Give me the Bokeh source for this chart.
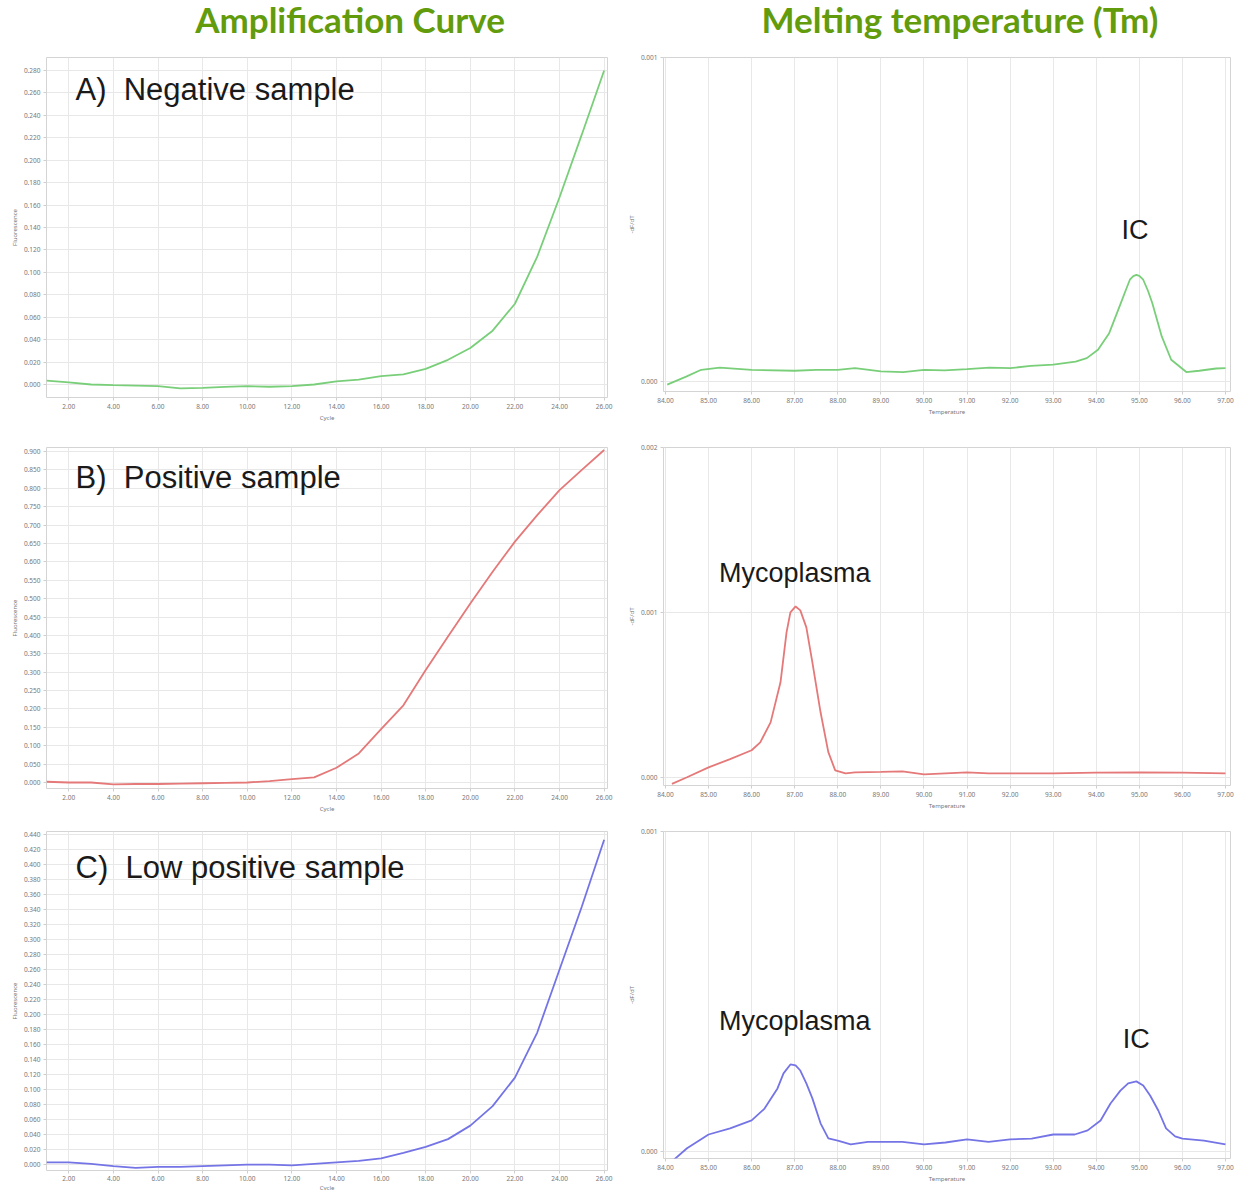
from bokeh.plotting import figure
from bokeh.layouts import column, row
from bokeh.models import Div, Label, FixedTicker, PrintfTickFormatter, Range1d
from bokeh.embed import file_html
from bokeh.resources import INLINE

# ---------------- data ----------------
cycles = list(range(1, 27))
neg_fluor = [0.0035, 0.0018, 0.0, -0.0006, -0.001, -0.0015, -0.0035, -0.003, -0.0022, -0.0015,
             -0.002, -0.0015, 0.0, 0.0027, 0.0044, 0.0074, 0.009, 0.0139, 0.022, 0.0325,
             0.048, 0.072, 0.114, 0.167, 0.223, 0.28]
pos_fluor = [0.002, 0.0, 0.0, -0.005, -0.004, -0.004, -0.003, -0.002, -0.001, 0.0,
             0.004, 0.009, 0.014, 0.04, 0.079, 0.145, 0.21, 0.306, 0.397, 0.487,
             0.573, 0.655, 0.727, 0.795, 0.85, 0.904]
low_fluor = [0.003, 0.003, 0.001, -0.002, -0.0044, -0.003, -0.003, -0.002, -0.001, 0.0,
             0.0, -0.001, 0.001, 0.003, 0.005, 0.0084, 0.0156, 0.0236, 0.034, 0.052,
             0.078, 0.116, 0.176, 0.26, 0.344, 0.433]

neg_temp = [84.04, 84.48, 84.83, 85.26, 86.0, 87.0, 87.5, 88.0, 88.4, 89.0, 89.52, 90.0, 90.48,
            91.0, 91.52, 92.0, 92.48, 93.0, 93.52, 93.78, 94.04, 94.3, 94.57, 94.68, 94.78,
            94.86, 94.93, 95.0, 95.09, 95.2, 95.3, 95.52, 95.74, 96.09, 96.39, 96.78, 97.0]
neg_dfdt = [-0.00001, 0.000015, 0.000036, 0.000043, 0.000036, 0.000033, 0.000036, 0.000036,
            0.000041, 0.000031, 0.000029, 0.000036, 0.000034, 0.000038, 0.000043, 0.000041,
            0.000048, 0.000052, 0.000061, 0.000072, 0.000098, 0.000149, 0.000242, 0.00028,
            0.000314, 0.000325, 0.000329, 0.000326, 0.000314, 0.00028, 0.000242, 0.000139,
            0.000067, 0.000029, 0.000033, 0.00004, 0.000041]

pos_temp = [84.15, 84.5, 85.0, 85.5, 86.0, 86.2, 86.44, 86.67, 86.81, 86.9, 87.02, 87.13,
            87.27, 87.41, 87.6, 87.78, 87.94, 88.18, 88.4, 89.0, 89.5, 90.0, 90.5, 91.0, 91.5,
            92.0, 93.0, 94.0, 95.0, 96.0, 97.0]
pos_dfdt = [-0.00004, 0.0, 0.00006, 0.00011, 0.000164, 0.000212, 0.000333, 0.000576, 0.000879,
            0.001, 0.001036, 0.001012, 0.000909, 0.000697, 0.000394, 0.000152, 0.000042,
            0.000024, 0.00003, 0.000033, 0.000036, 0.000018, 0.000024, 0.00003, 0.000024,
            0.000024, 0.000024, 0.000028, 0.00003, 0.000028, 0.000024]

low_temp = [84.1, 84.5, 85.0, 85.5, 86.0, 86.3, 86.6, 86.74, 86.9, 87.02, 87.13, 87.27, 87.41,
            87.6, 87.78, 88.0, 88.3, 88.7, 89.5, 90.0, 90.5, 91.0, 91.5, 92.0, 92.5, 93.0, 93.5,
            93.8, 94.1, 94.33, 94.56, 94.74, 94.93, 95.09, 95.25, 95.44, 95.62, 95.83, 96.0,
            96.5, 97.0]
low_dfdt = [-0.000037, 0.00001, 0.000053, 0.000072, 0.000097, 0.000134, 0.000197, 0.000244,
            0.000272, 0.000269, 0.000253, 0.000213, 0.000166, 0.000088, 0.000041, 0.000034,
            0.000022, 0.00003, 0.00003, 0.000022, 0.000028, 0.000038, 0.00003, 0.000038,
            0.00004, 0.000053, 0.000053, 0.000066, 0.000097, 0.00015, 0.00019, 0.000213,
            0.000219, 0.000206, 0.000175, 0.000128, 0.000072, 0.000047, 0.00004, 0.000034,
            0.000022]

cycle_ticks = [2, 4, 6, 8, 10, 12, 14, 16, 18, 20, 22, 24, 26]
temp_ticks = [84, 85, 86, 87, 88, 89, 90, 91, 92, 93, 94, 95, 96, 97]
neg_yticks = [round(0.02 * i, 2) for i in range(15)]
pos_yticks = [round(0.05 * i, 2) for i in range(19)]
low_yticks = [round(0.02 * i, 2) for i in range(23)]
melt_yticks_1 = [0.0, 0.001]
melt_yticks_2 = [0.0, 0.001, 0.002]

titles = ["Amplification Curve", "Melting temperature (Tm)"]
panel_labels = ["A)\u00a0\u00a0Negative sample", "B)\u00a0\u00a0Positive sample",
                "C)\u00a0\u00a0Low positive sample"]

GREEN = "#79cf79"
RED = "#e57878"
BLUE = "#7474e6"
TITLE_GREEN = "#629b0c"
TICK_FONT = "Noto Sans"
LABEL_FONT = "Liberation Sans"


def make_fig(xr, yr, fw, fh, bl, br, bt, bb, xticks, yticks, xlab, ylab, xfmt, yfmt):
    p = figure(frame_width=fw, frame_height=fh, x_range=Range1d(*xr), y_range=Range1d(*yr),
               toolbar_location=None, output_backend="svg",
               min_border_left=bl, min_border_right=br, min_border_top=bt, min_border_bottom=bb)
    p.outline_line_color = "#d4d4d4"
    p.background_fill_color = "white"
    p.border_fill_color = "white"
    for ax, ticks, fmt, lab in ((p.xaxis[0], xticks, xfmt, xlab), (p.yaxis[0], yticks, yfmt, ylab)):
        ax.ticker = FixedTicker(ticks=ticks)
        ax.formatter = PrintfTickFormatter(format=fmt)
        ax.axis_line_color = None
        ax.major_tick_line_color = "#cfcfcf"
        ax.major_tick_out = 3
        ax.major_tick_in = 0
        ax.minor_tick_line_color = None
        ax.major_label_text_font = TICK_FONT
        ax.major_label_text_font_size = "6.5px"
        ax.major_label_text_color = "#777777"
        ax.axis_label = lab
        ax.axis_label_text_font = TICK_FONT
        ax.axis_label_text_font_size = "6px"
        ax.axis_label_text_font_style = "normal"
        ax.axis_label_text_color = "#777777"
        ax.major_label_standoff = 3
        ax.axis_label_standoff = 2
    p.xgrid[0].ticker = FixedTicker(ticks=xticks)
    p.ygrid[0].ticker = FixedTicker(ticks=yticks)
    p.xgrid.grid_line_color = "#e8e8e8"
    p.ygrid.grid_line_color = "#e8e8e8"
    return p


def amp_fig(yr, fh, bt, bb, yticks, ys, color, text, ly):
    p = make_fig((1.0, 26.15), yr, 561, fh, 46, 13, bt, bb, cycle_ticks, yticks,
                 "Cycle", "Fluorescence", "%.2f", "%.3f")
    p.line(cycles, ys, line_color=color, line_width=1.8)
    p.add_layout(Label(x=29, y=ly, x_units="screen", y_units="screen", text=text,
                       text_font=LABEL_FONT, text_font_size="31px", text_color="#1a1a1a",
                       text_baseline="middle", text_align="left"))
    return p


def melt_fig(yr, fh, bt, bb, yticks, xs, ys, color, annotations):
    p = make_fig((83.954, 97.116), yr, 567, fh, 43, 7, bt, bb, temp_ticks, yticks,
                 "Temperature", "-dF/dT", "%.2f", "%.3f")
    p.line(xs, ys, line_color=color, line_width=1.8)
    for (tx, ty, t) in annotations:
        p.add_layout(Label(x=tx, y=ty, text=t, text_font=LABEL_FONT, text_font_size="27px",
                           text_color="#1a1a1a", text_baseline="middle", text_align="center"))
    return p


fA = amp_fig((-0.0116, 0.2916), 340, 9, 33, neg_yticks, neg_fluor, GREEN, panel_labels[0], 308)
fB = amp_fig((-0.0163, 0.9109), 341, 17, 27, pos_yticks, pos_fluor, RED, panel_labels[1], 311)
fC = amp_fig((-0.0078, 0.4439), 339, 12, 20, low_yticks, low_fluor, BLUE, panel_labels[2], 303)
fC.xaxis[0].major_label_standoff = 2
fC.xaxis[0].axis_label_standoff = 0

mA = melt_fig((-0.000031, 0.001), 334, 6, 42, melt_yticks_1, neg_temp, neg_dfdt, GREEN,
              [(94.9, 0.000469, "IC")])
mB = melt_fig((-0.00005, 0.002), 338, 15, 32, melt_yticks_2, pos_temp, pos_dfdt, RED,
              [(87.0, 0.00124, "Mycoplasma")])
mC = melt_fig((-0.000022, 0.001), 327, 16, 28, melt_yticks_1, low_temp, low_dfdt, BLUE,
              [(87.0, 0.000409, "Mycoplasma"), (94.93, 0.000353, "IC")])

style = ("font-family:Lato;font-weight:bold;font-size:35px;color:%s;"
         "text-align:center;line-height:38px;box-sizing:border-box;white-space:nowrap;" % TITLE_GREEN)
d1 = Div(text="<div style='%swidth:620px;padding-left:80px;'>%s</div>" % (style, titles[0]),
         width=620, height=48, margin=(0, 0, 0, 0))
d2 = Div(text="<div style='%swidth:617px;padding-left:63px;'>%s</div>" % (style, titles[1]),
         width=617, height=48, margin=(0, 0, 0, 0))

layout = column(row(d1, d2), row(fA, mA), row(fB, mB), row(fC, mC))

open("out.html", "w").write(file_html(layout, INLINE))
